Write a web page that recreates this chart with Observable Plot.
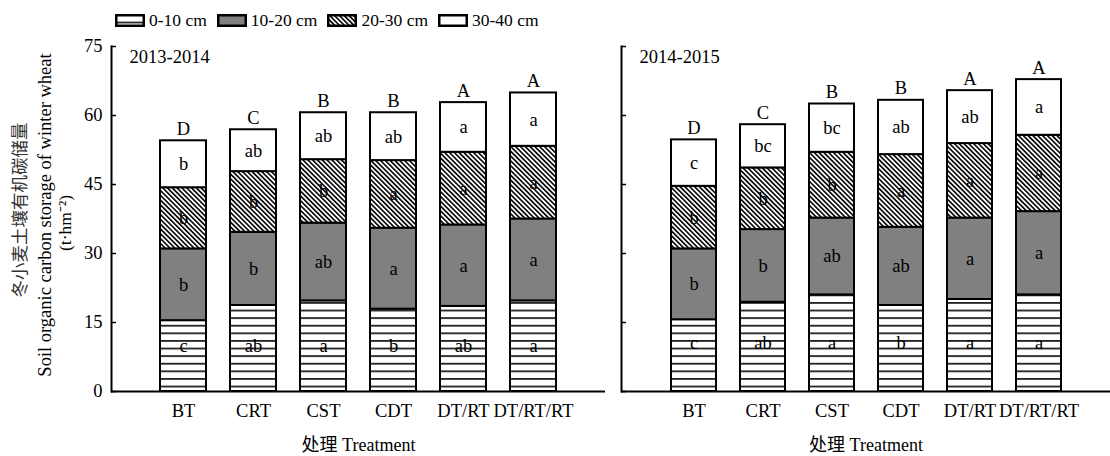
<!DOCTYPE html>
<html><head><meta charset="utf-8">
<script src="https://cdn.jsdelivr.net/npm/d3@7"></script>
<script src="https://cdn.jsdelivr.net/npm/@observablehq/plot@0.6"></script>
<style>
body{margin:0;background:#fff;font-family:"Liberation Serif","Noto Sans CJK SC",serif;color:#000;}
#legend{height:36px;display:flex;align-items:center;padding-left:115px;font-size:17.5px;box-sizing:border-box;padding-top:4px}
.item{display:flex;align-items:center;margin-right:10px}
.item svg{margin-right:4px}
#row{display:flex}
</style></head><body>
<svg width="0" height="0" style="position:absolute">
<defs>
<pattern id="pStripe" patternUnits="userSpaceOnUse" width="8" height="7.6">
 <rect width="8" height="7.6" fill="white"/>
 <rect y="0" width="8" height="1.8" fill="#222"/>
</pattern>
<pattern id="pHatch" patternUnits="userSpaceOnUse" width="3.4" height="3.4" patternTransform="rotate(-45)">
 <rect width="3.4" height="3.4" fill="white"/>
 <rect width="1.6" height="3.4" fill="black"/>
</pattern>
</defs></svg>
<div id="legend"></div>
<div id="row"></div>
<script>
// ---- data ----
const treatments = ["BT", "CRT", "CST", "CDT", "DT/RT", "DT/RT/RT"];
const layers = ["0-10 cm", "10-20 cm", "20-30 cm", "30-40 cm"];
const years = ["2013-2014", "2014-2015"];

// 2013-2014 soil organic carbon storage by layer (t·hm^-2)
const L0_2013 = [15.4, 18.7, 19.7, 17.9, 18.5, 19.7];
const L1_2013 = [15.6, 15.9, 16.9, 17.6, 17.7, 17.8];
const L2_2013 = [13.3, 13.2, 13.8, 14.7, 15.8, 15.8];
const L3_2013 = [10.2, 9.1, 10.2, 10.4, 10.8, 11.6];
// 2014-2015
const L0_2014 = [15.6, 19.4, 21.0, 18.7, 20.0, 21.0];
const L1_2014 = [15.4, 15.8, 16.7, 17.0, 17.7, 18.1];
const L2_2014 = [13.6, 13.4, 14.3, 15.8, 16.2, 16.6];
const L3_2014 = [10.1, 9.4, 10.5, 11.8, 11.5, 12.1];

// significance letters
const S0_2013 = ["c", "ab", "a", "b", "ab", "a"];
const S1_2013 = ["b", "b", "ab", "a", "a", "a"];
const S2_2013 = ["b", "b", "b", "a", "a", "a"];
const S3_2013 = ["b", "ab", "ab", "ab", "a", "a"];
const T_2013 = ["D", "C", "B", "B", "A", "A"];
const S0_2014 = ["c", "ab", "a", "b", "a", "a"];
const S1_2014 = ["b", "b", "ab", "ab", "a", "a"];
const S2_2014 = ["b", "b", "b", "a", "a", "a"];
const S3_2014 = ["c", "bc", "bc", "ab", "ab", "a"];
const T_2014 = ["D", "C", "B", "B", "A", "A"];

const yTicks = [0, 15, 30, 45, 60, 75];
const fills = ["url(#pStripe)", "#808080", "url(#pHatch)", "white"];
const FONT = '"Liberation Serif","Noto Sans CJK SC",serif';
const FS = 18.5;

// ---- legend ----
const legend = document.getElementById("legend");
layers.forEach((l, j) => {
  const it = document.createElement("div");
  it.className = "item";
  it.innerHTML = `<svg width="30" height="13"><rect x="1.25" y="1.25" width="27.5" height="10.5" fill="${fills[j]}" stroke="black" stroke-width="2.5"/></svg><span>${l}</span>`;
  legend.appendChild(it);
});

function panel(year, vals, lets, tops, left) {
  const rows = [];
  const labels = [];
  // common height for letters in bottom layer
  const bottomMid = d3.mean(vals[0], v => v / 2) + 0.8;
  treatments.forEach((t, i) => {
    let cum = 0;
    layers.forEach((l, j) => {
      const v = vals[j][i];
      rows.push({treatment: t, layer: l, value: v});
      labels.push({treatment: t, y: j === 0 ? bottomMid : cum + v / 2, letter: lets[j][i]});
      cum += v;
    });
  });
  const totals = treatments.map((t, i) => ({treatment: t, total: d3.sum(vals, v => v[i]), letter: tops[i]}));

  const marks = [
    Plot.barY(rows, {x: "treatment", y: "value", fill: "layer", stroke: "black", strokeWidth: 2}),
    Plot.text(labels, {x: "treatment", y: "y", text: "letter", fontSize: FS}),
    Plot.text(totals, {x: "treatment", y: "total", text: "letter", dy: -6, lineAnchor: "bottom", fontSize: FS}),
    Plot.axisY({ticks: yTicks, tickSize: 5, dx: 5, tickPadding: 9, fontSize: 18.5, label: null,
      tickFormat: left ? (d => d) : (() => ""), strokeWidth: 1.5}),
    Plot.axisX({tickSize: 0, tickPadding: 12, fontSize: FS, label: null}),
    Plot.ruleY([0], {strokeWidth: 2}),
    Plot.frame({anchor: "left", strokeWidth: 2}),
    Plot.text([year], {text: d => d, frameAnchor: "top-left", dx: 18, dy: 11, textAnchor: "start", lineAnchor: "middle", fontSize: FS}),
    Plot.text(["处理 Treatment"], {text: d => d, frameAnchor: "bottom", dy: 54, lineAnchor: "middle", fontSize: 18})
  ];
  if (left) {
    marks.push(
      Plot.text(["冬小麦土壤有机碳储量"], {text: d => d, frameAnchor: "left", dx: -91, dy: -9, rotate: -90, textAnchor: "middle", lineAnchor: "middle", fontSize: 17.5, fill: "#333"}),
      Plot.text(["Soil organic carbon storage of winter wheat"], {text: d => d, frameAnchor: "left", dx: -66, dy: -4, rotate: -90, textAnchor: "middle", lineAnchor: "middle", fontSize: 18.5}),
      Plot.text(["(t·hm⁻²)"], {text: d => d, frameAnchor: "left", dx: -46, dy: 4, rotate: -90, textAnchor: "middle", lineAnchor: "middle", fontSize: 17.5})
    );
  }
  return Plot.plot({
    width: left ? 610 : 500,
    height: 420,
    marginLeft: left ? 111 : 11,
    marginRight: left ? 5 : 0,
    marginTop: 10,
    marginBottom: 65,
    style: {fontFamily: FONT, fontSize: "18px", background: "white", color: "black", overflow: "visible"},
    x: {domain: treatments, paddingInner: 0.35, paddingOuter: 0.67, label: null},
    y: {domain: [0, 75], label: null},
    color: {domain: layers, range: fills},
    marks
  });
}

const row = document.getElementById("row");
row.appendChild(panel(years[0], [L0_2013, L1_2013, L2_2013, L3_2013], [S0_2013, S1_2013, S2_2013, S3_2013], T_2013, true));
row.appendChild(panel(years[1], [L0_2014, L1_2014, L2_2014, L3_2014], [S0_2014, S1_2014, S2_2014, S3_2014], T_2014, false));
</script>
</body></html>
